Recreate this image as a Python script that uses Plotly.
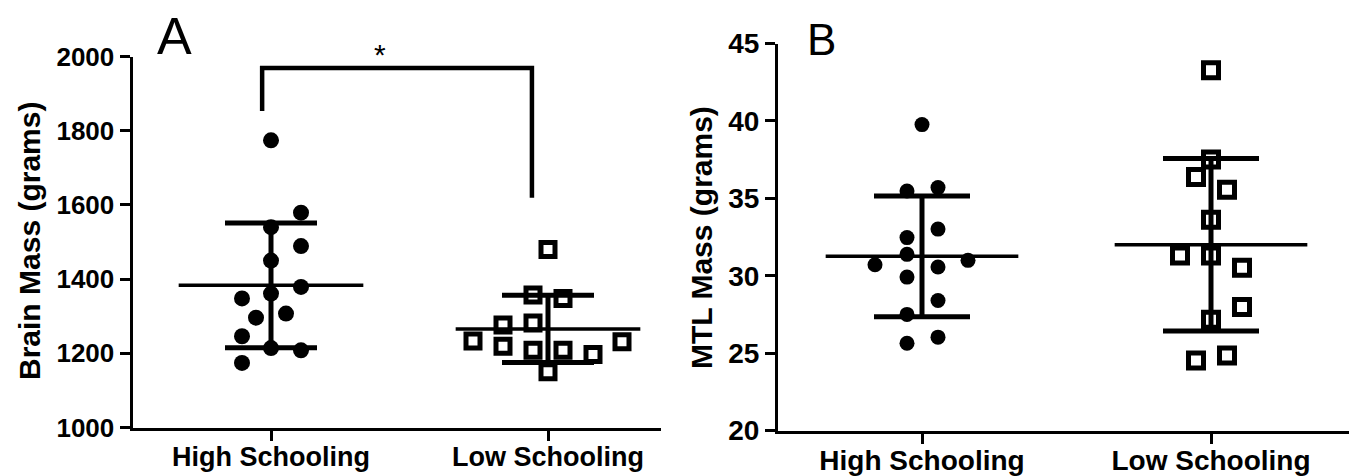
import numpy as np
import plotly.graph_objects as go

# ---------------- data ----------------
categories = ["High Schooling", "Low Schooling"]

# Panel A: brain mass (grams)
brain_high = [1774, 1579, 1540, 1489, 1450, 1379, 1361, 1348, 1307, 1296, 1246, 1214, 1208, 1174]
brain_low = [1480, 1357, 1348, 1276, 1282, 1233, 1219, 1208, 1208, 1197, 1231, 1150]

# Panel B: MTL mass (grams)
mtl_high = [39.76, 35.47, 35.69, 33.01, 32.46, 31.38, 30.71, 30.99, 30.56, 29.91, 28.40, 27.50, 26.03, 25.64]
mtl_low = [43.27, 37.50, 36.38, 35.56, 33.62, 31.31, 31.31, 30.51, 27.97, 27.16, 24.52, 24.85]

# horizontal scatter offsets of the dots (pixels)
brain_high_jit = [0, 30, 0, 30, 0, 30, 0, -29, 15, -15, -29, 0, 30, -29]
brain_low_jit = [0, -15, 15, -45, -15, -75, -45, -15, 15, 45, 74, 0]
mtl_high_jit = [0, -15, 16, 16, -15, -15, -47, 46, 16, -15, 16, -15, 16, -15]
mtl_low_jit = [0, 0, -15, 16, 0, -31, 0, 31, 31, 0, -15, 16]

# significance bracket (panel A)
bracket_x = [-0.032, -0.032, 0.942, 0.942]
bracket_y = [1853, 1969, 1969, 1619]
sig_label = "*"

y_ticks_a = [1000, 1200, 1400, 1600, 1800, 2000]
y_ticks_b = [20, 25, 30, 35, 40, 45]

# ---------------- layout geometry ----------------
W, H = 1349, 476
PX_A = 277.0   # pixels per category unit, panel A
PX_B = 289.0   # pixels per category unit, panel B
FONT = "Liberation Sans, Arial, sans-serif"

fig = go.Figure()


def add_group(vals, jit, cat, px, xa, ya, symbol, size, capw):
    xs = [cat + j / px for j in jit]
    if symbol == "circle":
        marker = dict(symbol="circle", size=size, color="black", line=dict(width=0))
    else:
        marker = dict(symbol="square-open", size=size, color="black",
                      line=dict(width=5, color="black"))
    fig.add_trace(go.Scatter(x=xs, y=vals, mode="markers", marker=marker,
                             xaxis=xa, yaxis=ya, hoverinfo="y", cliponaxis=False))
    m = float(np.mean(vals))
    sd = float(np.std(vals, ddof=1))
    # mean line
    fig.add_trace(go.Scatter(x=[cat - 1 / 3, cat + 1 / 3], y=[m, m], mode="lines",
                             line=dict(color="black", width=3.5),
                             xaxis=xa, yaxis=ya, hoverinfo="skip"))
    # SD error bar
    fig.add_trace(go.Scatter(x=[cat], y=[m], mode="markers",
                             marker=dict(size=1, color="rgba(0,0,0,0)"),
                             error_y=dict(type="data", array=[sd], visible=True,
                                          color="black", thickness=5, width=capw),
                             xaxis=xa, yaxis=ya, hoverinfo="skip"))


add_group(brain_high, brain_high_jit, 0, PX_A, "x", "y", "circle", 16, 46)
add_group(brain_low, brain_low_jit, 1, PX_A, "x", "y", "square", 14, 46)
add_group(mtl_high, mtl_high_jit, 0, PX_B, "x2", "y2", "circle", 15, 48)
add_group(mtl_low, mtl_low_jit, 1, PX_B, "x2", "y2", "square", 15, 48)

# bracket
fig.add_trace(go.Scatter(x=bracket_x, y=bracket_y, mode="lines",
                         line=dict(color="black", width=4.5),
                         xaxis="x", yaxis="y", hoverinfo="skip", cliponaxis=False))

axis_common = dict(showline=True, linecolor="black", linewidth=3, ticks="outside",
                   ticklen=10, tickwidth=3, tickcolor="black", showgrid=False,
                   zeroline=False, fixedrange=True, automargin=False)

bold_cats = ["<b>%s</b>" % c for c in categories]

fig.update_layout(
    template="none",
    width=W, height=H,
    margin=dict(l=0, r=0, t=0, b=0, pad=0),
    paper_bgcolor="white", plot_bgcolor="white",
    showlegend=False,
    xaxis=dict(domain=[132.5 / W, 661 / W],
               range=[-(271 - 132.5) / PX_A, 1 + (661 - 548) / PX_A],
               tickvals=[0, 1], ticktext=bold_cats, anchor="y",
               ticklabelstandoff=-7,
               tickfont=dict(family=FONT, size=27, color="black", weight="bold"),
               **axis_common),
    yaxis=dict(domain=[(H - 427.5) / H, (H - 56.5) / H], range=[1000, 2000],
               tickvals=y_ticks_a, anchor="x",
               tickfont=dict(family=FONT, size=26, color="black", weight="bold"),
               **axis_common),
    xaxis2=dict(domain=[778 / W, 1.0], range=[-144 / PX_B, 1 + (1349 - 1211) / PX_B],
                tickvals=[0, 1], ticktext=bold_cats, anchor="y2",
                ticklabelstandoff=-7,
                tickfont=dict(family=FONT, size=28, color="black", weight="bold"),
                **axis_common),
    yaxis2=dict(domain=[(H - 430.5) / H, (H - 43.5) / H], range=[20, 45],
                tickvals=y_ticks_b, anchor="x2",
                tickfont=dict(family=FONT, size=28, color="black", weight="bold"),
                **axis_common),
)

annotations = [
    dict(text="Brain Mass (grams)", x=29 / W, y=(H - 241) / H, xref="paper", yref="paper",
         textangle=-90, showarrow=False, xanchor="center", yanchor="middle",
         font=dict(family=FONT, size=30, color="black", weight="bold")),
    dict(text="MTL Mass (grams)", x=701 / W, y=(H - 237) / H, xref="paper", yref="paper",
         textangle=-90, showarrow=False, xanchor="center", yanchor="middle",
         font=dict(family=FONT, size=30, color="black", weight="bold")),
    dict(text="A", x=174.5 / W, y=(H - 36) / H, xref="paper", yref="paper",
         showarrow=False, xanchor="center", yanchor="middle",
         font=dict(family=FONT, size=52, color="black")),
    dict(text="B", x=821 / W, y=(H - 39) / H, xref="paper", yref="paper",
         showarrow=False, xanchor="center", yanchor="middle",
         font=dict(family=FONT, size=44, color="black")),
    dict(text=sig_label, x=380 / W, y=(H - 54) / H, xref="paper", yref="paper",
         showarrow=False, xanchor="center", yanchor="middle",
         font=dict(family=FONT, size=30, color="black")),
]
fig.update_layout(annotations=annotations)

fig.write_html("out.html",
               config={"displayModeBar": False},
               post_script="document.body.style.margin='0';document.body.style.overflow='hidden';")
